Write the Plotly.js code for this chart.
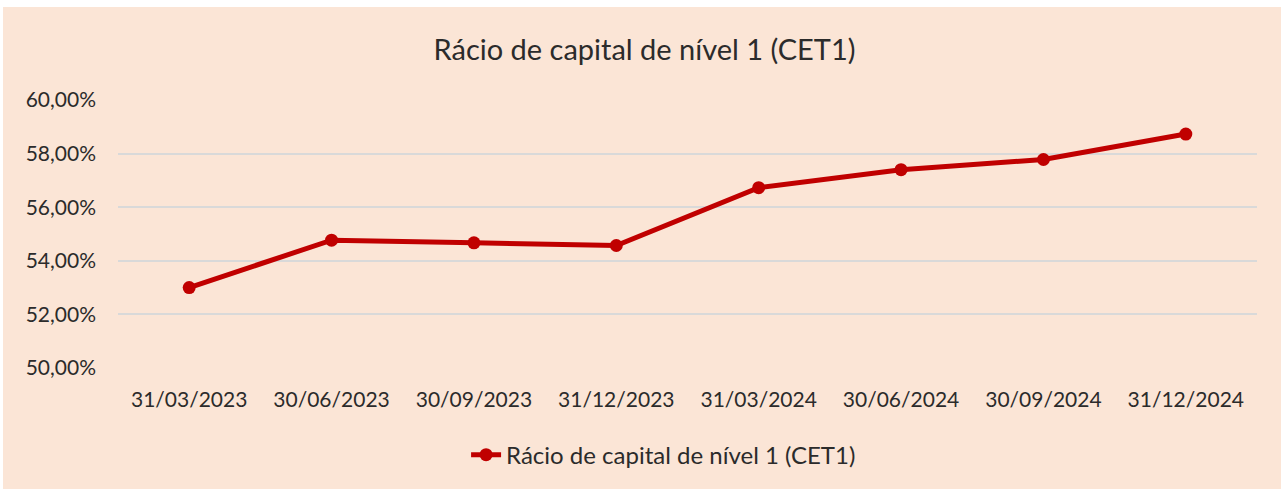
<!DOCTYPE html>
<html>
<head>
<meta charset="utf-8">
<script src="https://cdn.plot.ly/plotly-3.0.1.min.js"></script>
<style>
  html, body { margin: 0; padding: 0; background: #ffffff; width: 1281px; height: 489px; overflow: hidden; }
  #chart { position: absolute; left: 3px; top: 7px; width: 1278px; height: 482px; }
</style>
</head>
<body>
<div id="chart"></div>
<script>
const categories = ["31/03/2023", "30/06/2023", "30/09/2023", "31/12/2023", "31/03/2024", "30/06/2024", "30/09/2024", "31/12/2024"];
const cet1Values = [53.00, 54.77, 54.67, 54.57, 56.73, 57.40, 57.78, 58.73];
const seriesName = "Rácio de capital de nível 1 (CET1)";
const chartTitle = "Rácio de capital de nível 1 (CET1)";
const yTicks = [50, 52, 54, 56, 58, 60];
const yTickLabels = ["50,00%", "52,00%", "54,00%", "56,00%", "58,00%", "60,00%"];

const FONT = "Lato, 'Open Sans', sans-serif";
const TEXT = "#2b2b2b";

const trace = {
  x: categories,
  y: cet1Values,
  type: "scatter",
  mode: "lines+markers",
  name: seriesName,
  line: { color: "#C00000", width: 5 },
  marker: { color: "#C00000", size: 13 },
  cliponaxis: false
};

const layout = {
  width: 1278,
  height: 482,
  paper_bgcolor: "#FBE5D6",
  plot_bgcolor: "#FBE5D6",
  separators: ",.",
  margin: { l: 115, r: 24, t: 93, b: 121 },
  title: {
    text: chartTitle,
    font: { family: FONT, size: 29, color: TEXT },
    x: 0.502, xref: "container", xanchor: "center",
    y: 0.912, yref: "container", yanchor: "middle"
  },
  xaxis: {
    type: "category",
    range: [-0.5, 7.5],
    showgrid: false,
    zeroline: false,
    showline: false,
    ticks: "",
    tickfont: { family: FONT, size: 21, color: TEXT },
    ticklabelstandoff: 17
  },
  yaxis: {
    range: [50, 60],
    tickmode: "array",
    tickvals: yTicks,
    ticktext: yTickLabels,
    showgrid: true,
    gridcolor: "#D9D9D9",
    gridwidth: 2,
    zeroline: false,
    showline: false,
    ticks: "",
    tickfont: { family: FONT, size: 21, color: TEXT },
    ticklabelstandoff: 21
  },
  showlegend: true,
  legend: {
    orientation: "h",
    x: 0.479, xanchor: "center", xref: "paper",
    y: -0.325, yanchor: "middle", yref: "paper",
    bgcolor: "rgba(0,0,0,0)",
    font: { family: FONT, size: 24, color: TEXT }
  }
};

Plotly.newPlot("chart", [trace], layout, { displayModeBar: false, staticPlot: true });
</script>
</body>
</html>
